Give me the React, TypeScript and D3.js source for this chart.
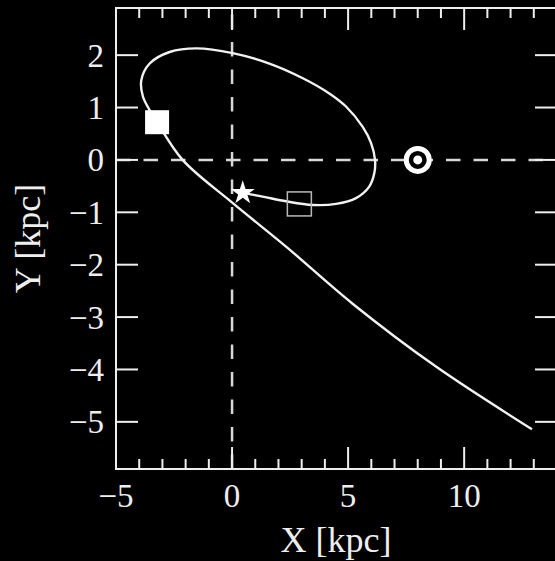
import React, { useEffect, useRef } from 'react';
import * as d3 from 'd3';

// orbit track, from the star along the loop and out to the tail end (kpc)
const orbitX = [0.46, 1.32, 2.33, 3.48, 4.48, 5.34, 5.91, 6.13, 6.16, 5.99, 5.63, 4.91, 4.19, 3.05, 1.61, 0.03, -1.54, -2.69, -3.55, -3.91, -3.84, -3.55, -3.23, -2.13, 0.02, 2.34, 5.18, 8.8, 12.92];
const orbitY = [-0.63, -0.7, -0.79, -0.86, -0.84, -0.73, -0.51, -0.25, 0, 0.32, 0.63, 1.02, 1.27, 1.56, 1.84, 2.04, 2.13, 2.06, 1.84, 1.52, 1.21, 0.95, 0.72, 0, -0.82, -1.66, -2.74, -3.95, -5.14];

const starPos = [0.46, -0.63];
const openSquarePos = [2.9, -0.84];
const filledSquarePos = [-3.23, 0.72];
const sunPos = [8, 0];

const xMajorTicks = [-5, 0, 5, 10];
const xMinorTicks = d3.range(-5, 15, 1);
const yTicks = [2, 1, 0, -1, -2, -3, -4, -5];

const WIDTH = 555;
const HEIGHT = 561;

const App = () => {
  const ref = useRef<SVGSVGElement>(null);

  useEffect(() => {
    draw();
  });

  const draw = () => {
    const svg = d3.select(ref.current);
    svg.selectAll('*').remove();

    const left = 116;
    const right = 557;
    const top = 8;
    const bottom = 469;

    const x = d3.scaleLinear().domain([-5, 14]).range([left, right]);
    const y = d3.scaleLinear().domain([-5.9, 2.9]).range([bottom, top]);

    svg.append('rect').attr('width', WIDTH).attr('height', HEIGHT).attr('fill', '#000');

    // dashed reference lines
    svg.append('line')
      .attr('x1', left).attr('x2', right).attr('y1', y(0)).attr('y2', y(0))
      .attr('stroke', '#d8d8d8').attr('stroke-width', 2.5).attr('stroke-dasharray', '14.5,13');
    svg.append('line')
      .attr('x1', x(0)).attr('x2', x(0)).attr('y1', bottom).attr('y2', top)
      .attr('stroke', '#d8d8d8').attr('stroke-width', 2.5).attr('stroke-dasharray', '14.5,13');

    // orbit
    const pts = orbitX.map((d, i) => [d, orbitY[i]] as [number, number]);
    const line = d3.line<[number, number]>()
      .x((d) => x(d[0]))
      .y((d) => y(d[1]))
      .curve(d3.curveCatmullRom);
    svg.append('path')
      .attr('d', line(pts))
      .attr('fill', 'none')
      .attr('stroke', '#f2f2f2')
      .attr('stroke-width', 2.4);

    // markers
    svg.append('rect')
      .attr('x', x(openSquarePos[0]) - 12).attr('y', y(openSquarePos[1]) - 12)
      .attr('width', 24).attr('height', 24)
      .attr('fill', 'none').attr('stroke', '#b8b8b8').attr('stroke-width', 1.5);
    svg.append('rect')
      .attr('x', x(filledSquarePos[0]) - 12).attr('y', y(filledSquarePos[1]) - 12)
      .attr('width', 24).attr('height', 24)
      .attr('fill', '#fff');
    svg.append('path')
      .attr('d', d3.symbol().type(d3.symbolStar).size(180)())
      .attr('transform', `translate(${x(starPos[0])},${y(starPos[1])})`)
      .attr('fill', '#fff');
    svg.append('circle')
      .attr('cx', x(sunPos[0])).attr('cy', y(sunPos[1])).attr('r', 11.5)
      .attr('fill', '#000').attr('stroke', '#fff').attr('stroke-width', 5);
    svg.append('circle')
      .attr('cx', x(sunPos[0])).attr('cy', y(sunPos[1])).attr('r', 4.5)
      .attr('fill', '#fff');

    // frame
    const ax = svg.append('g').attr('stroke', '#eeeeee').attr('stroke-width', 2);
    ax.append('rect')
      .attr('x', left).attr('y', top).attr('width', right - left).attr('height', bottom - top)
      .attr('fill', 'none');

    xMinorTicks.forEach((t) => {
      const len = xMajorTicks.includes(t) ? 22 : 10;
      ax.append('line').attr('x1', x(t)).attr('x2', x(t)).attr('y1', top).attr('y2', top + len);
      ax.append('line').attr('x1', x(t)).attr('x2', x(t)).attr('y1', bottom).attr('y2', bottom - len);
    });
    yTicks.forEach((t) => {
      ax.append('line').attr('x1', left).attr('x2', left + 22).attr('y1', y(t)).attr('y2', y(t));
      ax.append('line').attr('x1', right).attr('x2', right - 22).attr('y1', y(t)).attr('y2', y(t));
    });

    const font = '"Liberation Serif", "DejaVu Serif", serif';
    const fmt = (v: number) => (v < 0 ? '\u2212' + Math.abs(v) : String(v));

    svg.selectAll('.xlab')
      .data(xMajorTicks)
      .enter()
      .append('text')
      .attr('x', (d) => x(d))
      .attr('y', 507)
      .attr('text-anchor', 'middle')
      .attr('fill', '#eee')
      .attr('font-family', font)
      .attr('font-size', 33)
      .text(fmt);

    svg.selectAll('.ylab')
      .data(yTicks)
      .enter()
      .append('text')
      .attr('x', 104)
      .attr('y', (d) => y(d))
      .attr('dy', '0.35em')
      .attr('text-anchor', 'end')
      .attr('fill', '#eee')
      .attr('font-family', font)
      .attr('font-size', 33)
      .text(fmt);

    svg.append('text')
      .attr('x', 336)
      .attr('y', 552)
      .attr('text-anchor', 'middle')
      .attr('fill', '#eee')
      .attr('font-family', font)
      .attr('font-size', 36)
      .text('X [kpc]');

    svg.append('text')
      .attr('transform', `translate(40,${(top + bottom) / 2}) rotate(-90)`)
      .attr('text-anchor', 'middle')
      .attr('fill', '#eee')
      .attr('font-family', font)
      .attr('font-size', 36)
      .text('Y [kpc]');
  };

  return (
    <div style={{ position: 'absolute', left: 0, top: 0, width: WIDTH, height: HEIGHT, overflow: 'hidden' }}>
      <svg ref={ref} width={WIDTH} height={HEIGHT} style={{ display: 'block' }} />
    </div>
  );
};

export default App;
